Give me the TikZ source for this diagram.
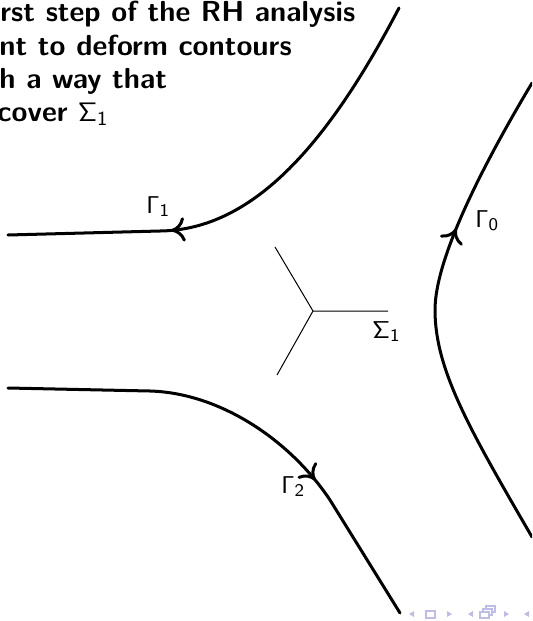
\documentclass[tikz,border=0pt]{standalone}
\usetikzlibrary{arrows.meta, positioning, decorations.markings}
\definecolor{nav}{rgb}{0.74,0.74,0.9}

\begin{document}
\begin{tikzpicture}[x=0.449pt, y=-0.449pt,
      txt/.style={font=\fontsize{13}{16}\selectfont\sffamily\bfseries,
                  anchor=base west, inner sep=0pt},
      lab/.style={font=\fontsize{11}{13}\selectfont, anchor=base west, inner sep=0pt},
      contour/.style={line width=1.35pt, line cap=round},
      midarrow/.style={decoration={markings, mark=at position #1 with
                  {\arrow{Computer Modern Rightarrow[length=6.2pt, width=11pt]}}},
                  postaction={decorate}},
      cut/.style={line width=0.45pt},
      navtri/.style={fill=nav},
      navbox/.style={draw=nav, line width=0.5pt}]
    \useasboundingbox (0,0) rectangle (532,621);
    \clip (0,0) rectangle (532,621);
    \node[txt] (l1) at (0,22) {rst step of the RH analysis};
    \node[txt] (l2) at (-1,55) {nt to deform contours};
    \node[txt] (l3) at (-1,88) {h a way that};
    \node[txt] (l4) at (-3,121) {cover $\mathsf{\Sigma}_{\mathsf{1}}$};
    % contours
    \draw[contour, midarrow=0.67] (399,8) .. controls (330,140) and (255,230) .. (160,231) -- (8,235);
    \draw[contour, midarrow=0.68] (8,388) -- (150,391) .. controls (220,393) and (290,440) .. (330,500) -- (400,613);
    \draw[contour, midarrow=0.67] (532,537) .. controls (470,430) and (435,370) .. (435,310)
          .. controls (435,260) and (480,170) .. (532,83);
    \node[lab] (g1) at (146,213) {$\mathsf{\Gamma}_{\mathsf{1}}$};
    \node[lab] (g0) at (475,227) {$\mathsf{\Gamma}_{\mathsf{0}}$};
    \node[lab] (g2) at (281,493) {$\mathsf{\Gamma}_{\mathsf{2}}$};
    % Sigma_1
    \coordinate (o) at (313,311);
    \coordinate (sa) at (275,247);
    \coordinate (sb) at (388,311);
    \coordinate (sc) at (277,375);
    \draw[cut] (sa) -- (o) -- (sb);
    \draw[cut] (o) -- (sc);
    \node[lab] (s1) at (372,338) {$\mathsf{\Sigma}_{\mathsf{1}}$};
    % navigation
    \fill[navtri] (414,611) -- (409,614) -- (414,617) -- cycle;
    \draw[navbox] (426,611) rectangle (435,618);
    \fill[navtri] (447,611) -- (452,614) -- (447,617) -- cycle;
    \fill[navtri] (473,611) -- (468,614) -- (473,617) -- cycle;
    \draw[navbox] (480,612) rectangle (489,618);
    \draw[navbox] (483,612) -- (483,609) -- (492,609) -- (492,615) -- (489,615);
    \draw[navbox] (486,609) -- (486,606) -- (495,606) -- (495,612) -- (492,612);
    \fill[navtri] (504,611) -- (509,614) -- (504,617) -- cycle;
    \fill[navtri] (529,611) -- (524,614) -- (529,617) -- cycle;
  \end{tikzpicture}
\end{document}
